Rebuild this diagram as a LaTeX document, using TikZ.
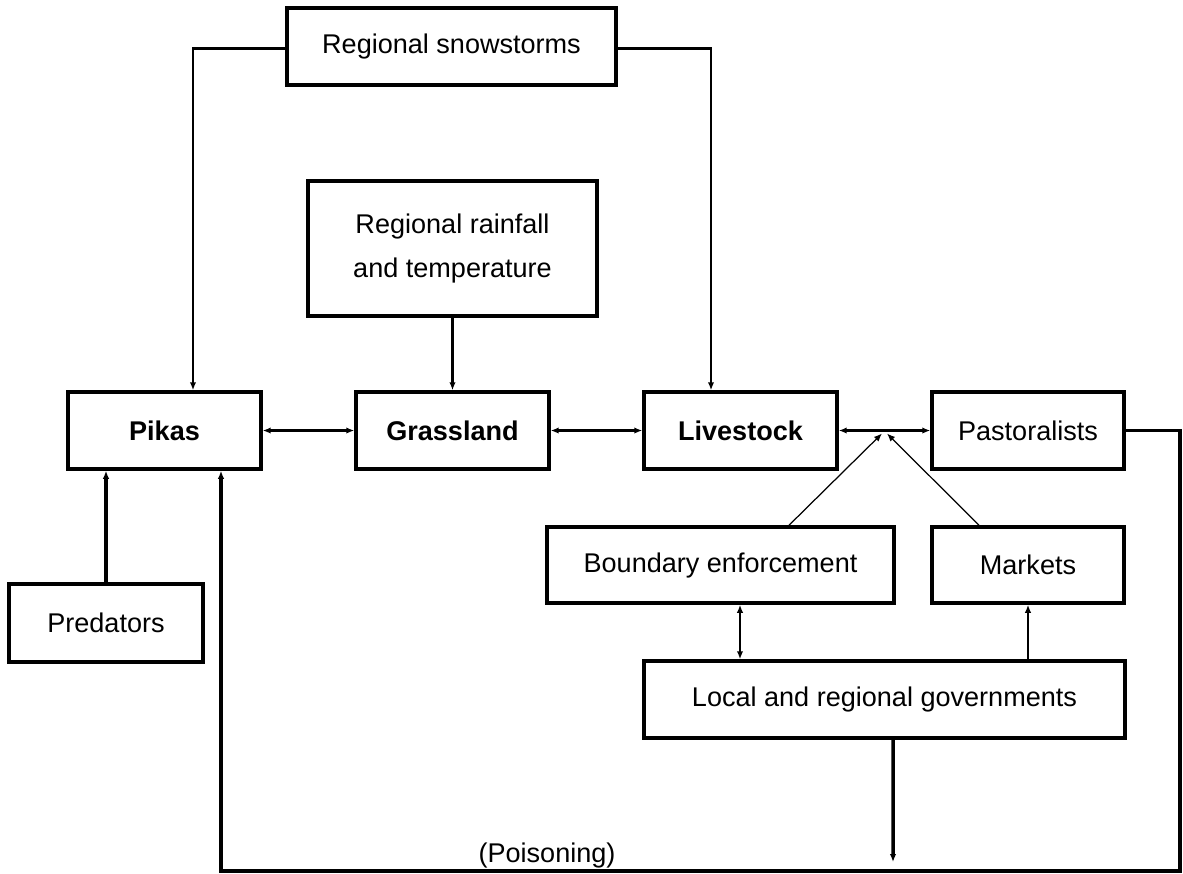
\documentclass[tikz,border=0pt]{standalone}
\usepackage{fontspec}
\setmainfont{Liberation Sans}
\usetikzlibrary{arrows.meta}
\tikzset{
  box/.style={draw,line width=2pt,rectangle,inner sep=0pt,
    font=\fontsize{15.4}{25}\selectfont,align=center},
  link/.style={line width=1.3pt,-{Latex[length=1.6mm,width=1.3mm]}},
  dlink/.style={line width=1.3pt,{Latex[length=1.6mm,width=1.3mm]}-{Latex[length=1.6mm,width=1.3mm]}},
  thinlink/.style={line width=0.7pt,-{Latex[length=1.6mm,width=1.3mm]}},
  heavylink/.style={line width=2pt,-{Latex[length=1.6mm,width=1.3mm]}}
}
\begin{document}
\begin{tikzpicture}[x=0.02cm,y=-0.02cm]
\useasboundingbox (0,0) rectangle (1183,873);
% boxes
\node[box,minimum width=6.58cm,minimum height=1.54cm] (snow) at (451.5,46.5) {Regional snowstorms};
\node[box,minimum width=5.78cm,minimum height=2.7cm] (rain) at (452.5,248.5) {Regional rainfall\\and temperature};
\node[box,minimum width=3.86cm,minimum height=1.54cm,font=\fontsize{15.4}{25}\selectfont\bfseries] (pikas) at (164.5,430.5) {Pikas};
\node[box,minimum width=3.86cm,minimum height=1.54cm,font=\fontsize{15.4}{25}\selectfont\bfseries] (grass) at (452.5,430.5) {Grassland};
\node[box,minimum width=3.86cm,minimum height=1.54cm,font=\fontsize{15.4}{25}\selectfont\bfseries] (live) at (740.5,430.5) {Livestock};
\node[box,minimum width=3.84cm,minimum height=1.54cm] (past) at (1028,430.5) {Pastoralists};
\node[box,minimum width=3.88cm,minimum height=1.56cm] (pred) at (106,623) {Predators};
\node[box,minimum width=6.94cm,minimum height=1.52cm] (bound) at (720.5,565) {Boundary enforcement};
\node[box,minimum width=3.84cm,minimum height=1.52cm] (markets) at (1028,565) {Markets};
\node[box,minimum width=9.62cm,minimum height=1.54cm] (govt) at (884.5,699.5) {Local and regional governments};
\node[font=\fontsize{15.4}{25}\selectfont] (poison) at (547,855) {(Poisoning)};
\coordinate (mid) at (884.5,430.5);
\coordinate (down) at (893,862);
\coordinate (loopR) at (1180,871);
\coordinate (loopL) at (221,871);
% connectors
\draw[link] ([yshift=-0.04cm]snow.west) -| ([xshift=0.57cm]pikas.north);
\draw[link] ([yshift=-0.04cm]snow.east) -| ([xshift=-0.59cm]live.north);
\draw[link] (rain.south) -- (grass.north);
\draw[dlink] (pikas.east) -- (grass.west);
\draw[dlink] (grass.east) -- (live.west);
\draw[dlink] (live.east) -- (past.west);
\draw[thinlink] ([xshift=1.37cm]bound.north) -- ([xshift=-0.05cm,yshift=-0.06cm]mid);
\draw[thinlink] ([xshift=-0.98cm]markets.north) -- ([xshift=0.05cm,yshift=-0.06cm]mid);
\draw[dlink] ([xshift=0.39cm]bound.south) -- ([xshift=0.39cm]bound.south |- govt.north);
\draw[link] (govt.north -| markets.south) -- (markets.south);
\draw[heavylink] (pred.north) -- (pred.north |- pikas.south);
\draw[heavylink] ([xshift=0.17cm]govt.south) -- (down);
\draw[heavylink] (past.east) -| (loopR) -- (loopL) -- (loopL |- pikas.south);
\end{tikzpicture}
\end{document}
